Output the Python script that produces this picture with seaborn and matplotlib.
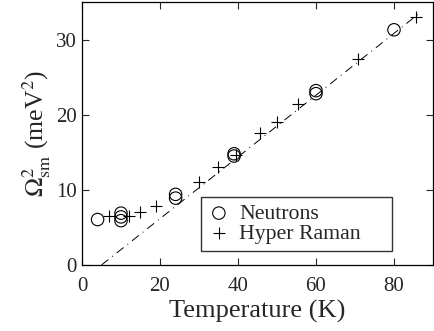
import matplotlib
matplotlib.use("Agg")
import matplotlib.pyplot as plt
import seaborn as sns
import pandas as pd

# Data
neutron_T = [4, 10, 10, 10, 24, 24, 39, 39, 60, 60, 80]
neutron_O = [6.05, 6.9, 6.4, 5.9, 9.4, 8.9, 14.8, 14.5, 23.2, 22.8, 31.3]

raman_T = [7, 12, 15, 19, 30, 35, 39.5, 45.6, 50, 55.5, 70.8, 85.7]
raman_O = [6.5, 6.5, 7.1, 7.9, 11.1, 13.0, 14.7, 17.5, 19.0, 21.4, 27.4, 33.0]

fit_T = [5, 87]
fit_O = [0, 33.7]

xticks = [0, 20, 40, 60, 80]
yticks = [0, 10, 20, 30]

sns.set_style("ticks")
plt.rcParams["font.family"] = ["Liberation Serif", "DejaVu Serif"]
plt.rcParams["mathtext.fontset"] = "stix"

fig = plt.figure(figsize=(4.35, 3.31), dpi=100)
ax = fig.add_axes([0.1885, 0.1994, 0.8069, 0.7946])

df_fit = pd.DataFrame({"T": fit_T, "O": fit_O})
sns.lineplot(data=df_fit, x="T", y="O", ax=ax, color="black", lw=0.7,
             linestyle=(0, (9, 5, 1, 5)), legend=False)

df_n = pd.DataFrame({"T": neutron_T, "O": neutron_O})
df_r = pd.DataFrame({"T": raman_T, "O": raman_O})
sns.scatterplot(data=df_n, x="T", y="O", ax=ax, marker="o", s=80,
                facecolor="none", edgecolor="black", linewidth=0.8,
                label="Neutrons")
sns.scatterplot(data=df_r, x="T", y="O", ax=ax, marker="+", s=80,
                color="black", linewidth=0.8, label="Hyper Raman")

ax.set_xlim(0, 90)
ax.set_ylim(0, 35)
ax.set_xticks(xticks)
ax.set_yticks(yticks)
ax.tick_params(direction="in", top=True, right=True, labelsize=15, length=5,
               width=0.8)
ax.tick_params(axis="x", pad=8.5)
ax.tick_params(axis="y", pad=4)
for s in ax.spines.values():
    s.set_linewidth(0.9)
    s.set_color("black")

ax.set_xlabel("Temperature (K)", fontsize=19, labelpad=3)
ax.set_ylabel(r"$\Omega^2_{\rm sm}$ (meV$^2$)", fontsize=18.5, labelpad=2)

leg = ax.legend(loc="lower left", bbox_to_anchor=(0.339, 0.053, 0.544, 0.2),
                mode="expand", fontsize=15.7,
                frameon=True, fancybox=False, edgecolor="black",
                handletextpad=0.44, borderpad=0.32, labelspacing=0.0,
                handlelength=1.0, borderaxespad=0)
leg.get_frame().set_linewidth(1.0)

fig.savefig("out.png", dpi=100)
